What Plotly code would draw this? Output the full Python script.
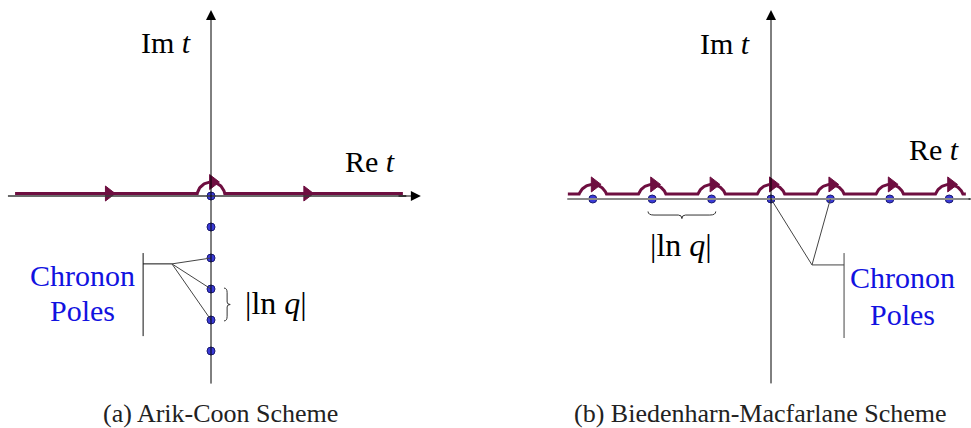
import numpy as np
import plotly.graph_objects as go

# ---------------- data (in units of |ln q|) ----------------
left_poles_im = [0, -1, -2, -3, -4, -5]          # Arik-Coon: poles on imaginary axis
left_chronon_idx = [2, 3, 4]                      # poles pointed at by the label
left_brace_idx = [3, 4]                           # spacing marked |ln q|
left_flow_arrows_re = [-3.3, 3.1]                 # direction arrows on contour

right_poles_re = [-3, -2, -1, 0, 1, 2, 3]         # Biedenharn-Macfarlane: poles on real axis
right_chronon_idx = [3, 4]
right_brace_idx = [1, 2]

captions = ["(a) Arik-Coon Scheme", "(b) Biedenharn-Macfarlane Scheme"]

# ---------------- styles ----------------
MAROON = "#6e0e40"
DOT_FILL = "#3a3ad8"
DOT_EDGE = "#1a1a70"
LABEL_BLUE = "#1212e0"
SERIF = "Liberation Serif"

fig = go.Figure()


def contour(centers, yc, r, x_start, x_end):
    a0 = np.arcsin(yc / r)
    xs, ys = [x_start], [yc]
    for c in centers:
        th = np.linspace(np.pi - a0, a0, 40)
        xs += list(c + r * np.cos(th))
        ys += list(r * np.sin(th))
    xs.append(x_end)
    ys.append(yc)
    return xs, ys


def axis_arrow(x, y, ax, ay, xref, yref, color="black", width=1.0, size=2.0):
    fig.add_annotation(x=x, y=y, ax=ax, ay=ay, xref=xref, yref=yref,
                       axref=xref, ayref=yref, text="", showarrow=True,
                       arrowhead=2, arrowsize=size, arrowwidth=width,
                       arrowcolor=color)


def label(x, y, text, xref, yref, size=30, color="black", xanchor="center"):
    fig.add_annotation(x=x, y=y, xref=xref, yref=yref, text=text, showarrow=False,
                       font=dict(family=SERIF, size=size, color=color),
                       xanchor=xanchor, yanchor="middle")


# ================= LEFT PANEL =================
fig.add_shape(type="line", x0=-6.55, y0=0, x1=6.3, y1=0, xref="x", yref="y",
              line=dict(color="#3a3a3a", width=1.6))
axis_arrow(6.77, 0, 6.0, 0, "x", "y")
axis_arrow(0, 6.0, 0, -6.1, "x", "y")

lcy, lr = 0.08, 0.45
cx, cy = contour([left_poles_im[0] * 0], lcy, lr, -6.32, 6.19)
fig.add_trace(go.Scatter(x=cx, y=cy, mode="lines", line=dict(color=MAROON, width=3),
                         xaxis="x", yaxis="y", hoverinfo="skip"))
fig.add_trace(go.Scatter(x=left_flow_arrows_re + [0.06], y=[lcy, lcy, lr],
                         mode="markers", xaxis="x", yaxis="y", hoverinfo="skip",
                         marker=dict(symbol="triangle-right", size=13, color=MAROON,
                                     line=dict(color=MAROON, width=1))))

jx, jy = -1.26, -2.19
fig.add_shape(type="line", x0=-2.19, y0=-1.84, x1=-2.19, y1=-4.52, xref="x", yref="y",
              line=dict(color="#111", width=1))
fig.add_shape(type="line", x0=-2.19, y0=jy, x1=jx, y1=jy, xref="x", yref="y",
              line=dict(color="#111", width=1))
for i in left_chronon_idx:
    fig.add_shape(type="line", x0=jx, y0=jy, x1=0, y1=left_poles_im[i], xref="x", yref="y",
                  line=dict(color="#444", width=1))

ya, yb = left_poles_im[left_brace_idx[0]], left_poles_im[left_brace_idx[1]]
ym = (ya + yb) / 2
bx0, bx1, bx2 = 0.42, 0.52, 0.62
path = (f"M {bx0},{ya+0.03} Q {bx1},{ya+0.03} {bx1},{ya-0.12} L {bx1},{ym+0.08} "
        f"Q {bx1},{ym} {bx2},{ym} Q {bx1},{ym} {bx1},{ym-0.08} L {bx1},{yb+0.12} "
        f"Q {bx1},{yb-0.03} {bx0},{yb-0.03}")
fig.add_shape(type="path", path=path, xref="x", yref="y", line=dict(color="#333", width=1))

fig.add_trace(go.Scatter(x=[0] * len(left_poles_im), y=left_poles_im, mode="markers",
                         xaxis="x", yaxis="y", hoverinfo="skip",
                         marker=dict(size=8, color=DOT_FILL, line=dict(color=DOT_EDGE, width=1))))

label(-1.45, 4.95, "Im <i>t</i>", "x", "y")
label(5.13, 1.12, "Re <i>t</i>", "x", "y")
label(2.1, -3.45, "|ln <i>q</i>|", "x", "y", size=32)
label(-4.16, -2.55, "Chronon", "x", "y", color=LABEL_BLUE)
label(-4.16, -3.7, "Poles", "x", "y", color=LABEL_BLUE)

# ================= RIGHT PANEL =================
fig.add_shape(type="line", x0=-3.43, y0=0, x1=3.35, y1=0, xref="x2", yref="y2",
              line=dict(color="#8a8a8a", width=2))
axis_arrow(3.55, 0, 3.3, 0, "x2", "y2")
axis_arrow(0, 3.18, 0, -3.13, "x2", "y2")

rcy, rr = 0.084, 0.245
cx, cy = contour(right_poles_re, rcy, rr, -3.42, 3.28)
fig.add_trace(go.Scatter(x=cx, y=cy, mode="lines", line=dict(color=MAROON, width=3),
                         xaxis="x2", yaxis="y2", hoverinfo="skip"))
fig.add_trace(go.Scatter(x=[p + 0.03 for p in right_poles_re], y=[rr] * len(right_poles_re),
                         mode="markers", xaxis="x2", yaxis="y2", hoverinfo="skip",
                         marker=dict(symbol="triangle-right", size=13, color=MAROON,
                                     line=dict(color=MAROON, width=1))))

jx2, jy2 = 0.69, -1.11
for i in right_chronon_idx:
    fig.add_shape(type="line", x0=right_poles_re[i], y0=0, x1=jx2, y1=jy2, xref="x2", yref="y2",
                  line=dict(color="#444", width=1))
fig.add_shape(type="line", x0=jx2, y0=jy2, x1=1.23, y1=jy2, xref="x2", yref="y2",
              line=dict(color="#444", width=1))
fig.add_shape(type="line", x0=1.23, y0=-0.91, x1=1.23, y1=-2.34, xref="x2", yref="y2",
              line=dict(color="#444", width=1))

xa, xb = right_poles_re[right_brace_idx[0]], right_poles_re[right_brace_idx[1]]
xa, xb = xa - 0.07, xb + 0.07
xm = (xa + xb) / 2
by0, by1, by2 = -0.21, -0.27, -0.33
path = (f"M {xa},{by0} Q {xa},{by1} {xa+0.1},{by1} L {xm-0.06},{by1} "
        f"Q {xm},{by1} {xm},{by2} Q {xm},{by1} {xm+0.06},{by1} L {xb-0.1},{by1} "
        f"Q {xb},{by1} {xb},{by0}")
fig.add_shape(type="path", path=path, xref="x2", yref="y2", line=dict(color="#333", width=1))

fig.add_trace(go.Scatter(x=right_poles_re, y=[0] * len(right_poles_re), mode="markers",
                         xaxis="x2", yaxis="y2", hoverinfo="skip",
                         marker=dict(size=8, color=DOT_FILL, line=dict(color=DOT_EDGE, width=1))))

label(-0.77, 2.62, "Im <i>t</i>", "x2", "y2")
label(2.74, 0.84, "Re <i>t</i>", "x2", "y2")
label(-1.52, -0.78, "|ln <i>q</i>|", "x2", "y2", size=32)
label(2.22, -1.32, "Chronon", "x2", "y2", color=LABEL_BLUE)
label(2.22, -1.95, "Poles", "x2", "y2", color=LABEL_BLUE)

fig.add_annotation(x=220 / 971, y=1 - 413 / 428, xref="paper", yref="paper", text=captions[0],
                   showarrow=False, xanchor="center", yanchor="middle",
                   font=dict(family=SERIF, size=26, color="#222"))
fig.add_annotation(x=572 / 971, y=1 - 413 / 428, xref="paper", yref="paper", text=captions[1],
                   showarrow=False, xanchor="left", yanchor="middle",
                   font=dict(family=SERIF, size=26, color="#222"))

hidden = dict(visible=False, showgrid=False, zeroline=False, fixedrange=True)
fig.update_layout(
    width=971, height=428, margin=dict(l=0, r=0, t=0, b=0),
    paper_bgcolor="white", plot_bgcolor="white", showlegend=False,
    font=dict(family=SERIF),
    xaxis=dict(domain=[0, 0.5], range=[(0 - 211) / 31, (485.5 - 211) / 31], **hidden),
    yaxis=dict(domain=[0, 1], range=[(196 - 428) / 31, 196 / 31], **hidden),
    xaxis2=dict(domain=[0.5, 1], range=[(485.5 - 771) / 59.4, (971 - 771) / 59.4],
                anchor="y2", **hidden),
    yaxis2=dict(domain=[0, 1], range=[(199 - 428) / 59.4, 199 / 59.4], anchor="x2", **hidden),
)

fig.write_html("out.html", post_script="document.body.style.margin='0px';",
               config={"displayModeBar": False})
